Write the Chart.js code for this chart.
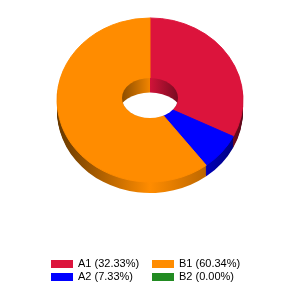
<!DOCTYPE html>
<html>
<head>
<meta charset="utf-8">
<script src="https://cdn.jsdelivr.net/npm/chart.js@4/dist/chart.umd.min.js"></script>
<style>
body { margin: 0; background: #fff; }
#wrap { position: relative; width: 300px; height: 300px; }
#legend {
	position: absolute; left: 51px; top: 257px;
	display: grid; grid-auto-flow: column;
	grid-template-rows: 13px 13px; grid-template-columns: 101px auto;
	font: 11px "Liberation Sans", Arial, sans-serif; color: #000;
}
.item { display: flex; align-items: center; height: 13px; line-height: 13px; white-space: nowrap; }
.box { width: 22px; height: 8px; margin-right: 5px; }
</style>
</head>
<body>
<div id="wrap">
	<canvas id="chart" width="300" height="300"></canvas>
	<div id="legend"></div>
</div>
<script>
const labels = ['A1', 'A2', 'B1', 'B2'];
const values = [32.33, 7.33, 60.34, 0.0];
const colors = ['#DC143C', '#0000FF', '#FF8C00', '#228B22'];

// fake 3d: squash the pie and extrude it downwards
const CX = 150, CY = 100, RADIUS = 93, TILT = 0.882, DEPTH = 11;
const HOLE = { x: 150, y: 98, rx: 28, ry: 20 };
const FLOOR = { x: 150, y: 114, rx: 32, ry: 21.5 };

function shade(hex, k) {
	const n = parseInt(hex.slice(1), 16);
	const r = Math.min(255, Math.round(((n >> 16) & 255) * k));
	const g = Math.min(255, Math.round(((n >> 8) & 255) * k));
	const b = Math.min(255, Math.round((n & 255) * k));
	return `rgb(${r},${g},${b})`;
}

function gradient(ctx, color, x0, x1, stops) {
	const g = ctx.createLinearGradient(x0, 0, x1, 0);
	stops.forEach(([p, k]) => g.addColorStop(p, shade(color, k)));
	return g;
}

function tilt(ctx, arc, dy) {
	ctx.translate(CX, CY + dy);
	ctx.scale(1, TILT);
	ctx.translate(-arc.x, -arc.y);
}

function wedgePath(ctx, arc, dy) {
	ctx.save();
	tilt(ctx, arc, dy);
	ctx.beginPath();
	ctx.moveTo(arc.x, arc.y);
	ctx.arc(arc.x, arc.y, arc.outerRadius, arc.startAngle, arc.endAngle);
	ctx.closePath();
	ctx.restore();
}

const tiltPlugin = {
	id: 'tilt',
	beforeDatasetsDraw(chart) {
		const ctx = chart.ctx;
		const arcs = chart.getDatasetMeta(0).data;
		const sides = colors.map((c) =>
			gradient(ctx, c, CX - RADIUS, CX + RADIUS, [[0, 0.4], [0.5, 1], [0.78, 0.76], [1, 0.42]])
		);
		for (let d = DEPTH; d >= 1; d--) {
			arcs.forEach((arc, i) => {
				if (arc.endAngle - arc.startAngle <= 0) return;
				wedgePath(ctx, arc, d);
				ctx.fillStyle = sides[i];
				ctx.fill();
			});
		}
		ctx.save();
		tilt(ctx, arcs[0], 0);
	},
	afterDatasetsDraw(chart) {
		const ctx = chart.ctx;
		ctx.restore();
		const arcs = chart.getDatasetMeta(0).data;
		ctx.save();
		ctx.beginPath();
		ctx.ellipse(HOLE.x, HOLE.y, HOLE.rx, HOLE.ry, 0, 0, Math.PI * 2);
		ctx.clip();
		arcs.forEach((arc, i) => {
			if (arc.endAngle - arc.startAngle <= 0) return;
			wedgePath(ctx, arc, 0);
			ctx.fillStyle = gradient(ctx, colors[i], HOLE.x - HOLE.rx, HOLE.x + HOLE.rx, [[0, 0.55], [0.5, 0.95], [1, 0.55]]);
			ctx.fill();
		});
		ctx.beginPath();
		ctx.ellipse(FLOOR.x, FLOOR.y, FLOOR.rx, FLOOR.ry, 0, 0, Math.PI * 2);
		ctx.fillStyle = '#fff';
		ctx.fill();
		ctx.restore();
	},
};

new Chart(document.getElementById('chart'), {
	type: 'pie',
	data: {
		labels: labels,
		datasets: [
			{
				data: values,
				backgroundColor: colors,
				borderColor: colors,
				borderWidth: 1,
				radius: RADIUS,
			},
		],
	},
	options: {
		responsive: false,
		animation: false,
		events: [],
		plugins: {
			legend: { display: false },
			tooltip: { enabled: false },
		},
	},
	plugins: [tiltPlugin],
});

const legend = document.getElementById('legend');
labels.forEach((label, i) => {
	const item = document.createElement('div');
	item.className = 'item';
	const box = document.createElement('span');
	box.className = 'box';
	box.style.background = colors[i];
	item.appendChild(box);
	item.appendChild(document.createTextNode(`${label} (${values[i].toFixed(2)}%)`));
	legend.appendChild(item);
});
</script>
</body>
</html>
